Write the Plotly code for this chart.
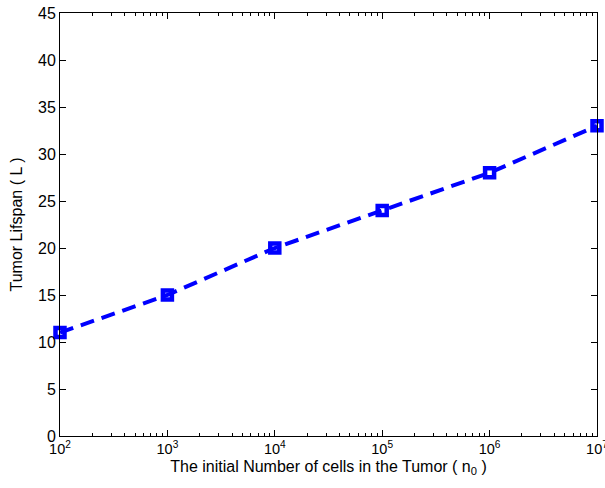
import plotly.graph_objects as go

# Initial tumor size (cells) and the resulting tumor lifspan
n0_cells = [1e2, 1e3, 1e4, 1e5, 1e6, 1e7]
lifespan = [11, 15, 20, 24, 28, 33]

x_tick_vals = [1e2, 1e3, 1e4, 1e5, 1e6, 1e7]
x_tick_text = ["10<sup>2</sup>", "10<sup>3</sup>", "10<sup>4</sup>",
               "10<sup>5</sup>", "10<sup>6</sup>", "10<sup>7</sup>"]
y_tick_vals = [0, 5, 10, 15, 20, 25, 30, 35, 40, 45]

# minor log ticks at 2..9 within each decade
x_minor_vals = [m * 10 ** e for e in range(2, 7) for m in range(2, 10)]

FONT = "Liberation Sans, Arial, Helvetica, sans-serif"

fig = go.Figure()
fig.add_trace(go.Scatter(
    x=n0_cells, y=lifespan,
    mode="lines+markers",
    line=dict(color="#0000ff", width=4, dash="14px,8px"),
    marker=dict(symbol="square-open", size=9, color="#0000ff",
                line=dict(color="#0000ff", width=4.5)),
    cliponaxis=False,
    showlegend=False,
))

fig.update_layout(
    width=605, height=488,
    margin=dict(l=60, r=8, t=13, b=52, autoexpand=False),
    paper_bgcolor="white", plot_bgcolor="white",
    font=dict(family=FONT, color="black", size=15),
)

fig.update_xaxes(
    type="log", range=[2, 7],
    tickmode="array", tickvals=x_tick_vals, ticktext=x_tick_text,
    ticks="inside", ticklen=6, tickcolor="black",
    minor=dict(tickmode="array", tickvals=x_minor_vals, ticks="inside",
               ticklen=3, tickcolor="black", showgrid=False),
    ticklabeloverflow="allow", automargin=False,
    showline=True, linecolor="black", linewidth=1, mirror="ticks",
    showgrid=False, zeroline=False,
    tickfont=dict(size=14.5, family=FONT),
    title=dict(text="The initial Number of cells in the Tumor ( n<sub>0</sub> )",
               font=dict(size=16, family=FONT), standoff=4),
)
fig.update_yaxes(
    range=[0, 45],
    tickvals=y_tick_vals,
    ticks="inside", ticklen=6, tickcolor="black",
    showline=True, linecolor="black", linewidth=1, mirror="ticks",
    showgrid=False, zeroline=False, automargin=False,
    tickfont=dict(size=16, family=FONT),
    title=dict(text="Tumor Lifspan ( L )", font=dict(size=16, family=FONT), standoff=11),
)

fig.write_html("out.html")
